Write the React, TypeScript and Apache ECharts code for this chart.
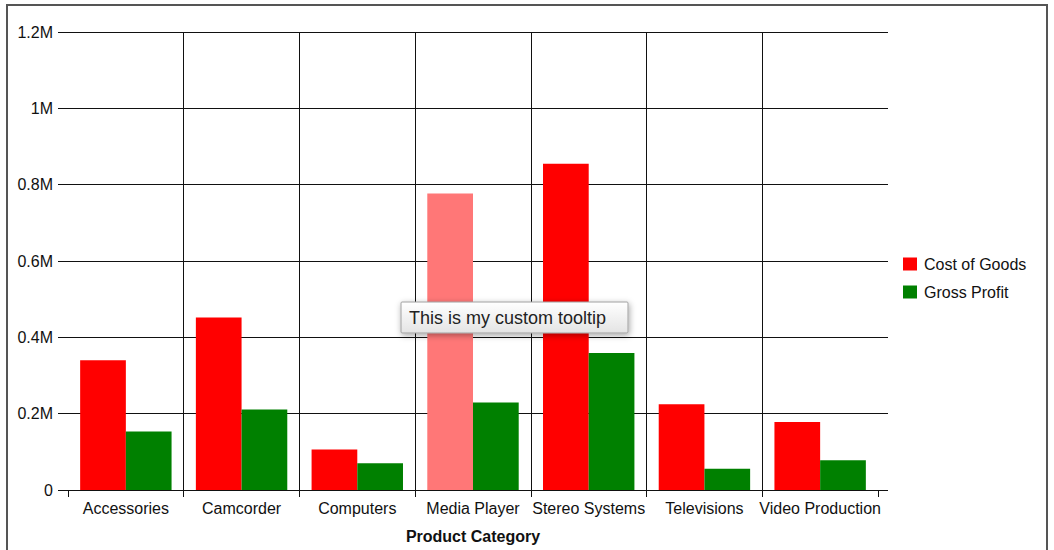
import React, { useEffect, useRef } from "react";
import * as echarts from "echarts";

const categories = [
  "Accessories",
  "Camcorder",
  "Computers",
  "Media Player",
  "Stereo Systems",
  "Televisions",
  "Video Production",
];
const costOfGoods = [340000, 452000, 106000, 777000, 855000, 225000, 178000];
const grossProfit = [153000, 211000, 70000, 229000, 359000, 56000, 78000];
const highlightedCategory = "Media Player";
const seriesNames = ["Cost of Goods", "Gross Profit"];
const yTicks = { min: 0, max: 1200000, interval: 200000 };
const axisTitle = "Product Category";
const tooltipText = "This is my custom tooltip";

const FONT = "'Liberation Sans', Arial, sans-serif";
const LINE = "#111";

export default function App() {
  const ref = useRef<HTMLDivElement>(null);
  useEffect(() => {
    if (!ref.current) return;
    const chart = echarts.init(ref.current, undefined, { renderer: "svg" });
    const fmt = (v: number) => (v === 0 ? "0" : `${+(v / 1e6).toFixed(1)}M`);
    chart.setOption({
      animation: false,
      textStyle: { fontFamily: FONT },
      grid: { left: 68, right: 176, top: 32, bottom: 60 },
      legend: {
        orient: "vertical",
        left: 898,
        top: 251,
        itemWidth: 14,
        itemHeight: 13,
        itemGap: 12,
        icon: "rect",
        data: seriesNames,
        textStyle: {
          fontSize: 16,
          color: "#111",
          fontFamily: FONT,
          lineHeight: 16,
          padding: [0, 0, 0, 2],
        },
      },
      xAxis: {
        type: "category",
        data: categories,
        name: axisTitle,
        nameLocation: "middle",
        nameGap: 38,
        nameTextStyle: { fontSize: 16, fontWeight: "bold", color: "#111", fontFamily: FONT },
        axisLine: { show: true, lineStyle: { color: LINE, width: 1 } },
        axisTick: { show: true, length: 7, lineStyle: { color: LINE, width: 1 } },
        axisLabel: { fontSize: 16, color: "#111", margin: 10, fontFamily: FONT, interval: 0 },
        splitLine: {
          show: true,
          showMinLine: false,
          showMaxLine: false,
          lineStyle: { color: LINE, width: 1 },
        },
      },
      yAxis: [
        {
          type: "value",
          min: yTicks.min,
          max: yTicks.max,
          interval: yTicks.interval,
          axisLine: { show: false },
          axisTick: { show: true, length: 10, lineStyle: { color: LINE, width: 1 } },
          axisLabel: { fontSize: 16, color: "#111", margin: 15, formatter: fmt, fontFamily: FONT },
          splitLine: { show: true, lineStyle: { color: LINE, width: 1 } },
        },
        {
          type: "value",
          position: "right",
          min: yTicks.min,
          max: yTicks.max,
          interval: yTicks.interval,
          axisLine: { show: false },
          axisTick: { show: true, length: 10, lineStyle: { color: LINE, width: 1 } },
          axisLabel: { show: false },
          splitLine: { show: false },
        },
      ],
      series: [
        {
          name: seriesNames[0],
          type: "bar",
          yAxisIndex: 0,
          barGap: "0%",
          barCategoryGap: "21%",
          itemStyle: { color: "#ff0000" },
          data: costOfGoods.map((v, i) =>
            categories[i] === highlightedCategory
              ? { value: v, itemStyle: { color: "#ff7777" } }
              : v
          ),
        },
        {
          name: seriesNames[1],
          type: "bar",
          yAxisIndex: 0,
          barGap: "0%",
          barCategoryGap: "21%",
          itemStyle: { color: "#008000" },
          data: grossProfit,
        },
      ],
      graphic: [
        {
          type: "rect",
          z: 100,
          shape: { x: 7, y: 5, width: 1040, height: 600 },
          style: { fill: "none", stroke: "#555", lineWidth: 2 },
          silent: true,
        },
        {
          type: "group",
          z: 100,
          children: [
            {
              type: "rect",
              z: 100,
              shape: { x: 401, y: 302, width: 227, height: 31, r: 1 },
              style: {
                fill: new echarts.graphic.LinearGradient(0, 0, 0, 1, [
                  { offset: 0, color: "#ffffff" },
                  { offset: 1, color: "#e4e4e4" },
                ]),
                stroke: "#a0a0a0",
                lineWidth: 1,
                shadowBlur: 6,
                shadowOffsetX: 1,
                shadowOffsetY: 2,
                shadowColor: "rgba(0,0,0,0.35)",
              },
            },
            {
              type: "text",
              z: 101,
              x: 409,
              y: 317.5,
              style: {
                text: tooltipText,
                fontSize: 18,
                fontFamily: FONT,
                fill: "#222",
                verticalAlign: "middle",
                align: "left",
              },
            },
          ],
        },
      ],
    });
    return () => chart.dispose();
  }, []);
  return (
    <div
      ref={ref}
      style={{ position: "fixed", left: 0, top: 0, width: 1054, height: 550, background: "#fff" }}
    />
  );
}
